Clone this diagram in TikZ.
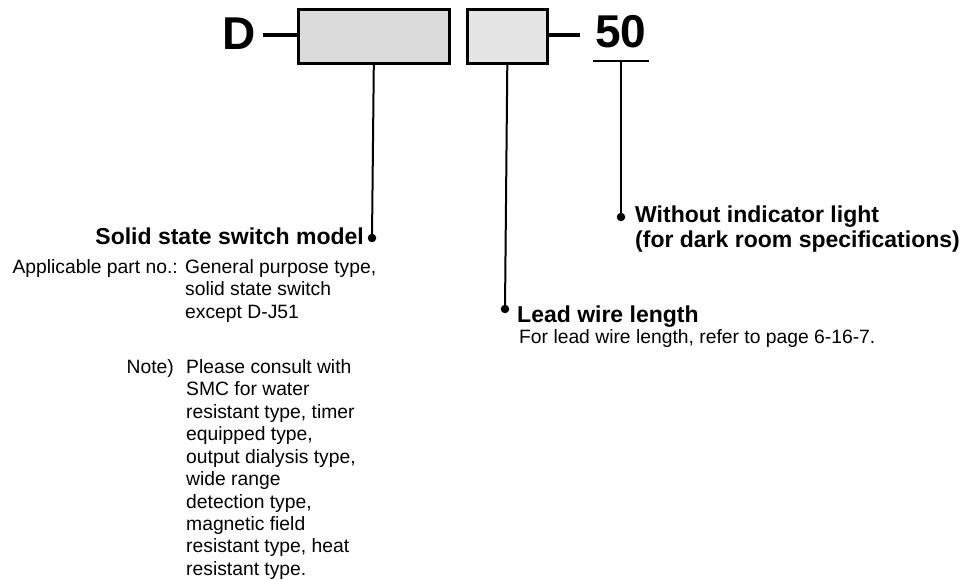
\documentclass[tikz,border=0pt]{standalone}
\usepackage{fontspec}
\setmainfont{Liberation Sans}
\newcommand{\rlines}[1]{\begin{tabular}[t]{@{}l@{}}#1\end{tabular}}
\begin{document}
\begin{tikzpicture}[x=1pt,y=-1pt,
  box/.style={draw=black,line width=2.6pt},
  lead/.style={line width=2pt},
  thick lead/.style={line width=3.6pt},
  dotc/.style={circle,fill=black,inner sep=0pt,minimum size=8.5pt},
  big/.style={font=\fontsize{46}{50}\selectfont\bfseries,inner sep=0pt},
  head/.style={font=\fontsize{23}{25}\selectfont\bfseries,inner sep=0pt},
  body/.style={font=\fontsize{19.3}{22.5}\selectfont,inner sep=0pt},
]
\useasboundingbox (0,0) rectangle (967,580);
% code
\node[big,anchor=base west] (D) at (222,50) {D};
\node[box,fill=black!14,minimum width=151pt,minimum height=54pt,inner sep=0pt,anchor=north west] (b1) at (297,8) {};
\node[box,fill=black!10,minimum width=80pt,minimum height=54pt,inner sep=0pt,anchor=north west] (b2) at (466,8) {};
\node[big,anchor=base west] (n50) at (595,48) {50};
\coordinate (dl) at (263,35);
\coordinate (rl) at (580,35);
\draw[thick lead] (dl) -- (dl -| b1.west);
\draw[thick lead] (b2.east |- rl) -- (rl);
\coordinate (u1) at (593,61);
\coordinate (u2) at (649,61);
\coordinate (um) at (621,61);
\draw[lead] (u1) -- (u2);
% dots
\node[dotc] (d1) at (372,238) {};
\node[dotc] (d2) at (505,309) {};
\node[dotc] (d3) at (621,217) {};
\draw[lead] (b1.south) -- (d1.center);
\draw[lead] (b2.south) -- (d2.center);
\draw[lead] (um) -- (d3.center);
% labels
\node[head,anchor=base east] (t1) at (364,245) {Solid state switch model};
\node[body,anchor=base east] (a1) at (178,273) {Applicable part no.:};
\node[body,anchor=base west] (a2) at (185,273) {\rlines{General purpose type,\\ solid state switch\\ except D-J51}};
\node[body,anchor=base east] (n1) at (174,373) {Note)};
\node[body,anchor=base west] (n2) at (186,373) {\rlines{Please consult with\\ SMC for water\\ resistant type, timer\\ equipped type,\\ output dialysis type,\\ wide range\\ detection type,\\ magnetic field\\ resistant type, heat\\ resistant type.}};
\node[head,anchor=base west] (t2) at (517,322) {Lead wire length};
\node[body,anchor=base west] (l2) at (519,343) {For lead wire length, refer to page 6-16-7.};
\node[head,anchor=base west] (t3) at (635,223) {\rlines{Without indicator light\\ (for dark room specifications)}};
\end{tikzpicture}
\end{document}
